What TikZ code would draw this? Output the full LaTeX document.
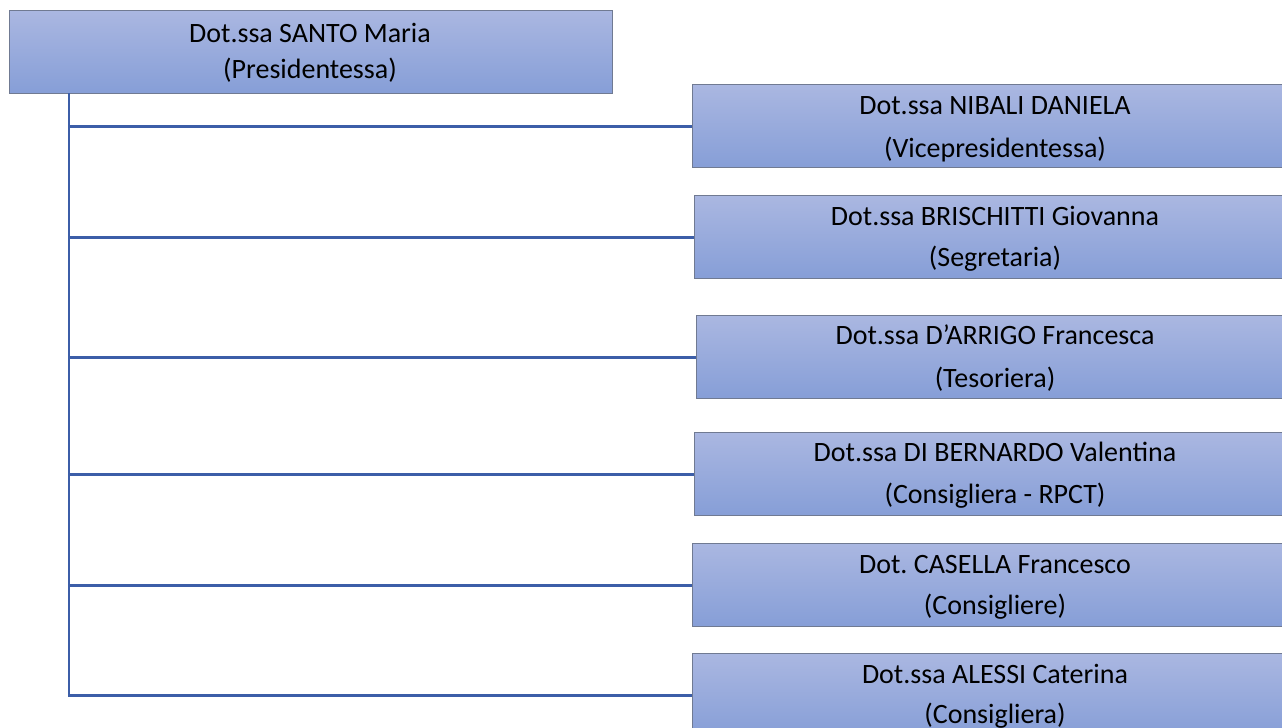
\documentclass[tikz,border=0pt]{standalone}
\usepackage{fontspec}
\setmainfont{Carlito}
\frenchspacing
\begin{document}
\begin{tikzpicture}[x=0.75pt,y=-0.75pt,
  boxstyle/.style={rectangle, anchor=north west, inner sep=0pt, top color=boxtop, bottom color=boxbot,
     draw=boxborder, line width=1pt, minimum height=62.25pt},
  txt/.style={anchor=base, inner sep=0pt, font=\fontsize{21}{27}\selectfont, text=black},
  conn/.style={draw=connblue, line width=2.2pt}]
\definecolor{boxtop}{RGB}{170,183,225}
\definecolor{boxbot}{RGB}{134,158,215}
\definecolor{boxborder}{RGB}{112,122,146}
\definecolor{connblue}{RGB}{60,94,168}
\useasboundingbox (0,0) rectangle (1282,728);
\clip (0,0) rectangle (1282,728);
\fill[white] (0,0) rectangle (1282,728);
% top box
\node[boxstyle, minimum width=452.25pt] (top) at (9,10) {};
\node[txt] (t1) at (310,42) {Dot.ssa SANTO Maria};
\node[txt] (t2) at (310,78) {(Presidentessa)};
% right boxes
\node[boxstyle, minimum width=470pt] (b1) at (692,84) {};
\node[boxstyle, minimum width=470pt] (b2) at (694,195) {};
\node[boxstyle, minimum width=470pt] (b3) at (696,315) {};
\node[boxstyle, minimum width=470pt] (b4) at (694,432) {};
\node[boxstyle, minimum width=470pt] (b5) at (692,543) {};
\node[boxstyle, minimum width=470pt] (b6) at (692,653) {};
\node[txt] (b1a) at (995,114) {Dot.ssa NIBALI DANIELA};
\node[txt] (b1b) at (995,157) {(Vicepresidentessa)};
\node[txt] (b2a) at (995,225) {Dot.ssa BRISCHITTI Giovanna};
\node[txt] (b2b) at (995,266) {(Segretaria)};
\node[txt] (b3a) at (995,344) {Dot.ssa D’ARRIGO Francesca};
\node[txt] (b3b) at (995,387) {(Tesoriera)};
\node[txt] (b4a) at (995,461) {Dot.ssa DI BERNARDO Valentina};
\node[txt] (b4b) at (995,503) {(Consigliera - RPCT)};
\node[txt] (b5a) at (995,573) {Dot. CASELLA Francesco};
\node[txt] (b5b) at (995,614) {(Consigliere)};
\node[txt] (b6a) at (995,683) {Dot.ssa ALESSI Caterina};
\node[txt] (b6b) at (995,723) {(Consigliera)};
% connectors
\coordinate (trunk) at (69,93);
\draw[conn] (trunk) -- (trunk |- b6.west) -- (b6.west);
\foreach \b in {b1,b2,b3,b4,b5}{
  \draw[conn] (trunk |- \b.west) -- (\b.west);
}
\end{tikzpicture}
\end{document}
